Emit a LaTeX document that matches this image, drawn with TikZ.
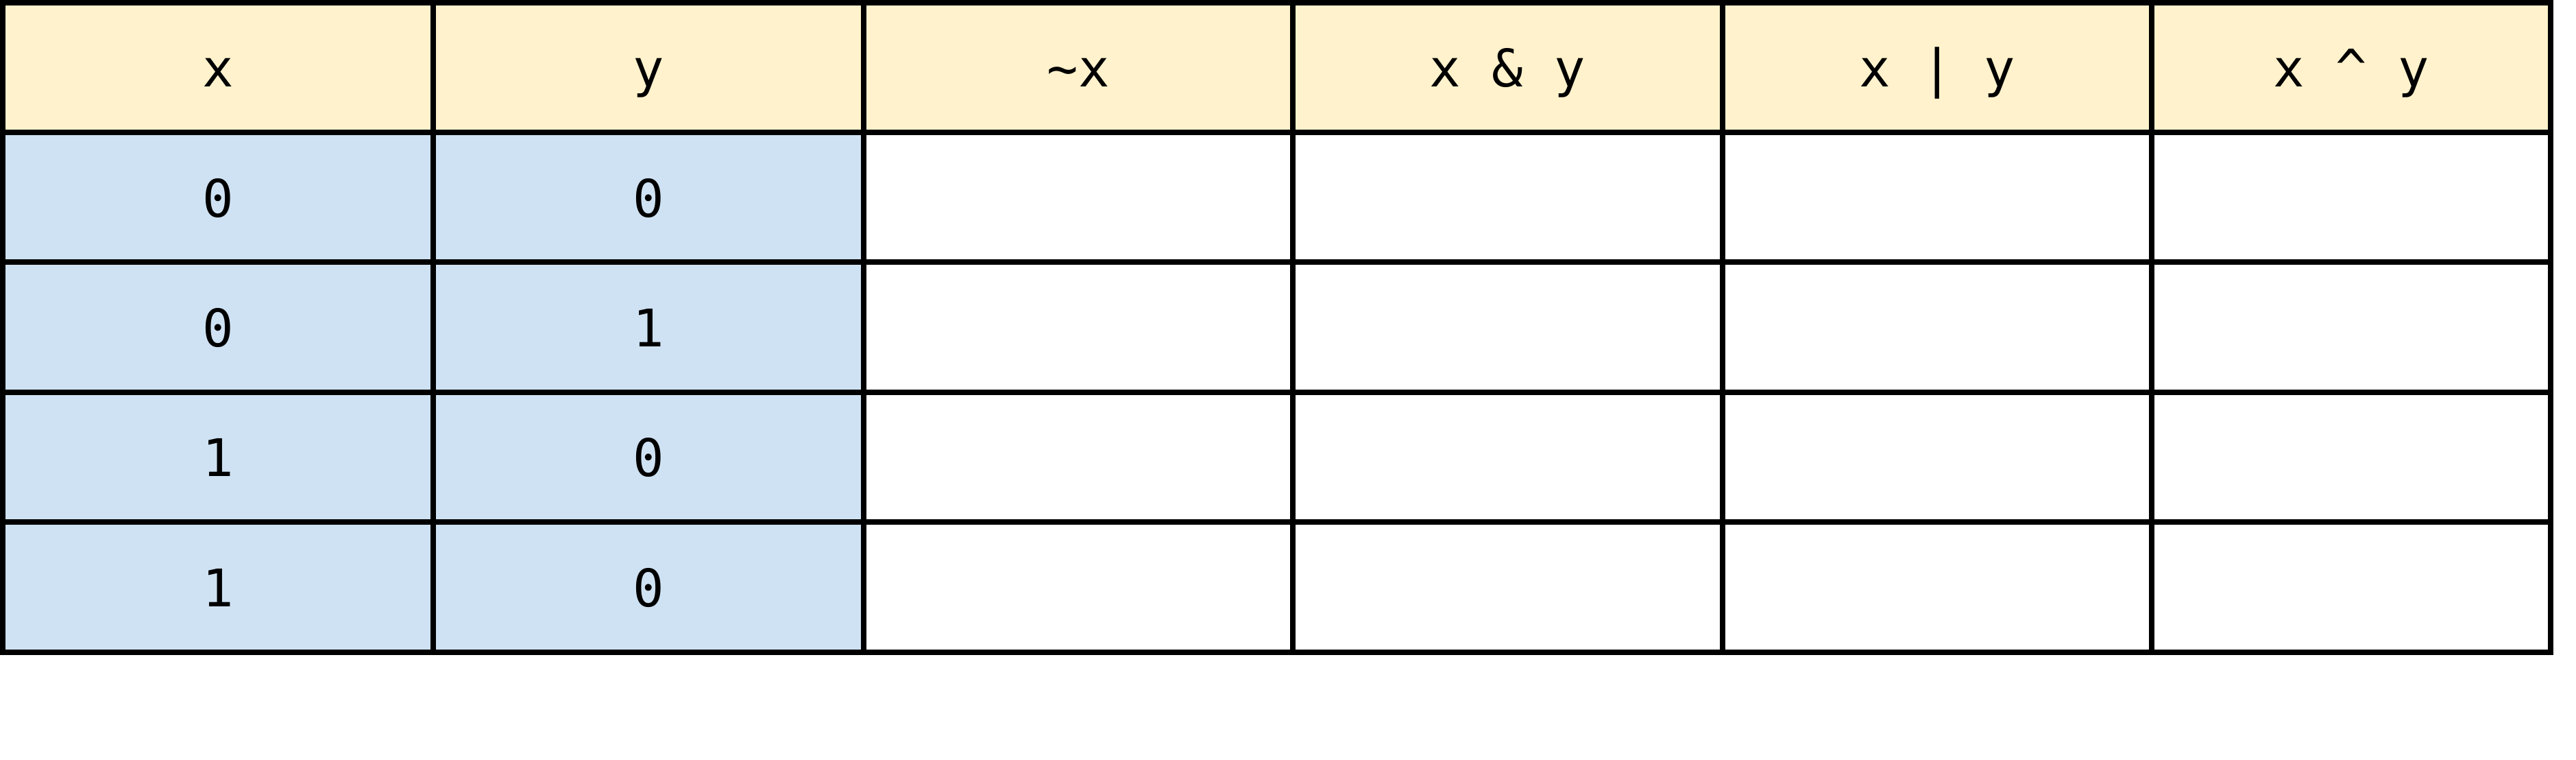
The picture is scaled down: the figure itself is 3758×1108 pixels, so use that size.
\documentclass[tikz,border=0pt]{standalone}
\usepackage{fontspec}
\setmonofont{DejaVu Sans Mono}
\definecolor{headfill}{HTML}{FFF2CC}
\definecolor{infill}{HTML}{CFE2F3}

\begin{document}
\begin{tikzpicture}[x=0.1mm,y=-0.1mm,
    txt/.style={anchor=base,inner sep=0pt,font=\ttfamily\fontsize{21.5pt}{26pt}\selectfont},
    rule/.style={line width=0.8mm}]
    \useasboundingbox (0,0) rectangle (3758,1108);
    % cell fills
    \fill[headfill] (4,4) rectangle (3721,193);
    \fill[infill] (4,193) rectangle (1260,951);
    % grid
    \foreach \y in {193,382,572,761} \draw[rule] (4,\y) -- (3721,\y);
    \foreach \x in {632,1260,1886,2513,3139} \draw[rule] (\x,4) -- (\x,951);
    \draw[rule] (4,4) rectangle (3721,951);
    % header
    \node[txt] (hx) at (318,127) {x};
    \node[txt] (hy) at (946,127) {y};
    \node[txt] (hnot) at (1573,127) {\textasciitilde x};
    \node[txt] (hand) at (2199.5,127) {x \& y};
    \node[txt] (hor) at (2826,127) {x | y};
    \node[txt] (hxor) at (3430,127) {x \textasciicircum{} y};
    % inputs
    \foreach \a/\b [count=\i] in {0/0,0/1,1/0,1/0} {
        \node[txt] (x\i) at (318,{127+189.3*\i}) {\a};
        \node[txt] (y\i) at (946,{127+189.3*\i}) {\b};
    }
\end{tikzpicture}
\end{document}
